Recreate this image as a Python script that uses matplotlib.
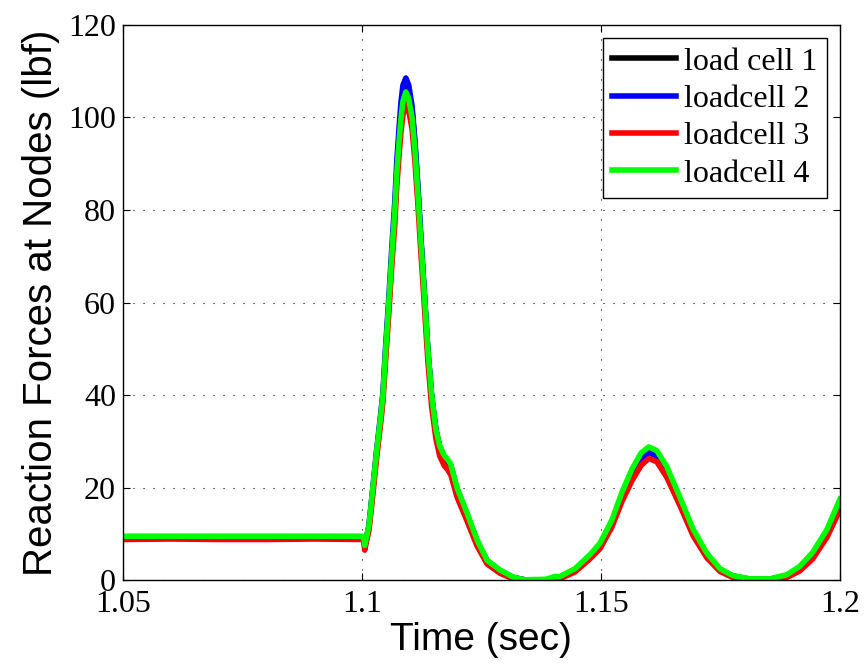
import numpy as np
import matplotlib
matplotlib.use('Agg')
import matplotlib.pyplot as plt

# time samples (sec)
time = [1.050, 1.060, 1.070, 1.080, 1.090, 1.1000, 1.1004, 1.1006, 1.1010, 1.1015,
        1.1023, 1.1031, 1.1040, 1.1044, 1.1050, 1.1057, 1.1063, 1.1069, 1.1073, 1.1078,
        1.1082, 1.1086, 1.1092, 1.1098, 1.1105, 1.1111, 1.1117, 1.1123, 1.1130, 1.1138,
        1.1146, 1.1155, 1.1163, 1.1172, 1.1180, 1.1186, 1.1199, 1.1220, 1.1241, 1.1262,
        1.1289, 1.1316, 1.1340, 1.1385, 1.1404, 1.1414, 1.1446, 1.1477, 1.1498, 1.1523,
        1.1544, 1.1565, 1.1584, 1.1600, 1.1617, 1.1638, 1.1665, 1.1693, 1.1722, 1.1749,
        1.1776, 1.1812, 1.1854, 1.1889, 1.1916, 1.1943, 1.1973, 1.2000]

cell1 = [9.3, 9.3, 9.2, 9.3, 9.3, 9.3, 9.1, 7.2, 9.2, 11.7,
         19.6, 27.6, 35.6, 39.6, 49.6, 60.5, 70.6, 79.8, 88.0, 95.5,
         101.0, 104.8, 107.0, 105.5, 101.5, 94.2, 85.0, 74.5, 63.0, 49.7,
         39.6, 32.3, 28.6, 26.6, 25.6, 24.6, 19.6, 14.1, 8.4, 4.1,
         2.0, 0.6, 0.1, 0.0, 0.3, 0.6, 2.3, 5.2, 7.6, 12.5,
         18.3, 23.2, 26.5, 27.8, 27.0, 23.5, 17.3, 10.5, 5.4, 2.3,
         0.9, 0.2, 0.2, 1.0, 2.7, 5.6, 10.5, 16.5]
cell2 = [9.4, 9.4, 9.4, 9.4, 9.4, 9.4, 9.2, 7.3, 9.3, 11.9,
         20.0, 28.2, 36.5, 40.5, 51.0, 62.0, 72.5, 82.0, 90.5, 98.0,
         103.5, 107.0, 108.5, 107.0, 102.5, 95.0, 85.5, 74.8, 63.2, 49.8,
         39.8, 32.5, 28.8, 26.8, 25.8, 24.8, 19.8, 14.3, 8.5, 4.2,
         2.1, 0.6, 0.1, 0.0, 0.3, 0.6, 2.3, 5.2, 7.6, 12.5,
         18.3, 23.0, 26.3, 27.6, 26.8, 23.3, 17.3, 10.5, 5.4, 2.3,
         0.9, 0.2, 0.2, 1.0, 2.7, 5.6, 10.5, 16.5]
cell3 = [8.8, 8.9, 8.8, 8.8, 8.9, 8.8, 8.6, 6.5, 8.5, 10.8,
         18.5, 26.5, 34.5, 38.5, 48.0, 58.5, 68.5, 77.0, 85.0, 92.0,
         97.0, 100.5, 103.0, 101.5, 97.5, 90.5, 81.5, 71.5, 60.5, 47.5,
         37.5, 30.5, 26.8, 24.8, 23.8, 22.8, 18.0, 12.8, 7.4, 3.5,
         1.5, 0.3, 0.0, 0.0, 0.1, 0.3, 1.8, 4.6, 6.8, 11.5,
         17.0, 21.5, 24.8, 26.3, 25.6, 22.2, 16.2, 9.6, 4.8, 1.9,
         0.6, 0.1, 0.1, 0.6, 2.0, 4.6, 9.3, 15.2]
cell4 = [9.5, 9.5, 9.5, 9.5, 9.5, 9.5, 9.3, 7.5, 9.5, 12.0,
         20.0, 28.0, 36.0, 40.0, 50.0, 61.0, 71.0, 80.0, 88.0, 95.0,
         100.0, 103.5, 105.5, 104.0, 100.0, 93.0, 84.0, 74.0, 63.0, 50.0,
         40.0, 32.5, 29.0, 27.0, 26.0, 25.0, 20.0, 14.5, 8.7, 4.3,
         2.2, 0.7, 0.1, 0.2, 0.8, 0.8, 2.5, 5.5, 8.0, 13.0,
         19.0, 24.0, 27.5, 28.8, 28.0, 24.5, 18.0, 11.0, 5.8, 2.5,
         1.0, 0.3, 0.3, 1.2, 3.0, 6.0, 11.0, 17.5]

labels = ['load cell 1', 'loadcell 2', 'loadcell 3', 'loadcell 4']
colors = ['#000000', '#0000ff', '#ff0000', '#00ff00']

fig = plt.figure(figsize=(8.65, 6.70), dpi=100)
ax = fig.add_axes([0.142, 0.134, 0.829, 0.829])

for y, lab, col in zip([cell1, cell2, cell3, cell4], labels, colors):
    ax.plot(time, y, color=col, lw=4, label=lab)

ax.set_xlim(1.05, 1.2)
ax.set_ylim(0, 120)
ax.set_xticks([1.05, 1.1, 1.15, 1.2])
ax.set_xticklabels(['1.05', '1.1', '1.15', '1.2'])
ax.set_yticks(np.arange(0, 121, 20))
ax.grid(True, linestyle=(0, (1, 8)), color='black', lw=0.8)
ax.tick_params(direction='in', top=True, right=True, length=5, width=0.8)
ax.tick_params(axis='x', pad=7)
ax.tick_params(axis='y', pad=5)
for lbl in ax.get_xticklabels() + ax.get_yticklabels():
    lbl.set_fontfamily('Liberation Serif')
    lbl.set_fontsize(23)
for s in ax.spines.values():
    s.set_linewidth(1.0)

ax.set_xlabel('Time (sec)', fontsize=28, family='Liberation Sans', labelpad=2)
ax.set_ylabel('Reaction Forces at Nodes (lbf)', fontsize=29, family='Liberation Sans', labelpad=6)

leg = ax.legend(loc='upper right', prop={'family': 'Liberation Serif', 'size': 23},
                fancybox=False, edgecolor='black', framealpha=1, handlelength=2.0,
                handletextpad=0.25, borderpad=0.3, labelspacing=0.25,
                borderaxespad=0.4)
leg.get_frame().set_linewidth(1.0)
for line in leg.get_lines():
    line.set_linewidth(4)

fig.savefig('out.png', dpi=100)
